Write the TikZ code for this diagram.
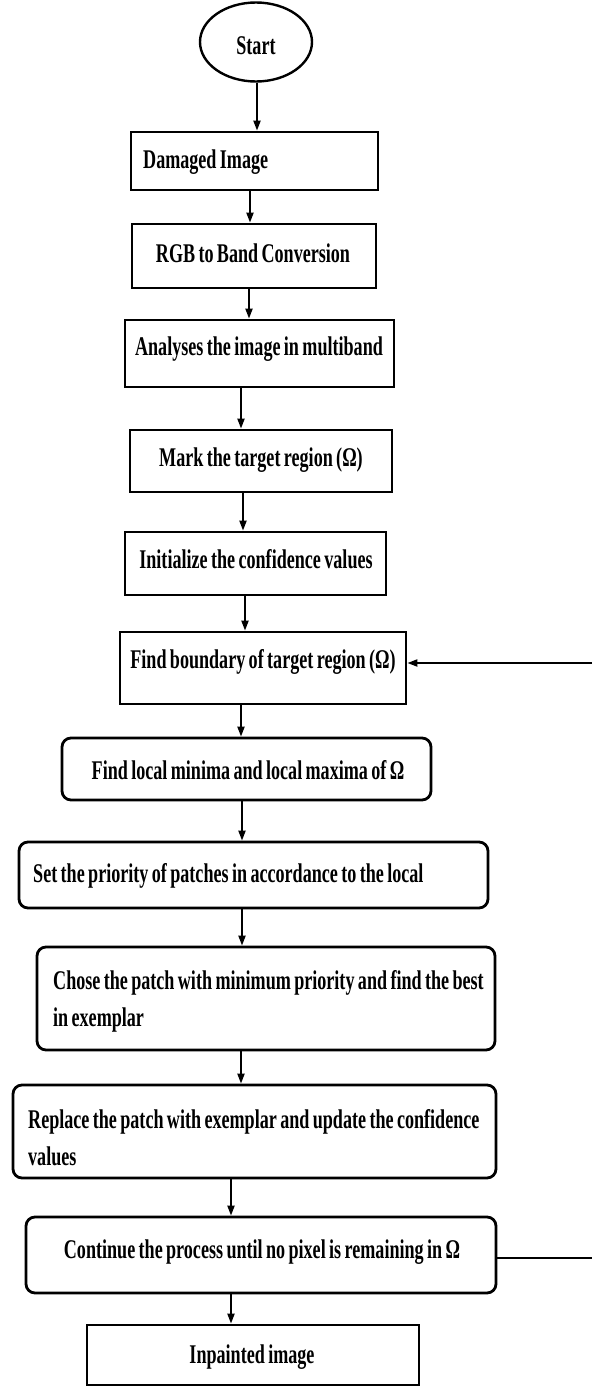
\documentclass[tikz,border=0pt]{standalone}
\usepackage{fontspec}
\setmainfont{Liberation Serif}[FakeStretch=0.67,WordSpace=0.75]
\usetikzlibrary{shapes.geometric,arrows.meta}
\begin{document}
\begin{tikzpicture}[x=1pt,y=-1pt,
  box/.style={draw, line width=2.8pt, inner sep=0pt},
  rbox/.style={box, rounded corners=9pt},
  lbl/.style={font=\fontsize{27}{37}\selectfont\bfseries, inner sep=0pt},
  arr/.style={line width=2pt, -{Triangle[length=10pt,width=7pt]}},
  plain/.style={line width=2.2pt}
]
\useasboundingbox[fill=white] (0,0) rectangle (592,1390);

\node[draw, ellipse, line width=2.4pt, minimum width=112pt, minimum height=79pt, inner sep=0pt] (start) at (256,42) {};
\node[lbl, anchor=base] (t0) at (256,54) {Start};

\node[box, minimum width=247pt, minimum height=58pt] (b1) at (254.5,161) {};
\node[box, minimum width=244pt, minimum height=64pt] (b2) at (254,256) {};
\node[box, minimum width=269pt, minimum height=67pt] (b3) at (259.5,353.5) {};
\node[box, minimum width=262pt, minimum height=62pt] (b4) at (261,461) {};
\node[box, minimum width=261pt, minimum height=63pt] (b5) at (255.5,563.5) {};
\node[box, minimum width=286pt, minimum height=72pt] (b6) at (263,668) {};
\node[rbox, minimum width=369pt, minimum height=62pt] (b7) at (246.5,769) {};
\node[rbox, minimum width=469pt, minimum height=66pt] (b8) at (253.5,875) {};
\node[rbox, minimum width=458pt, minimum height=103pt] (b9) at (266,998.5) {};
\node[rbox, minimum width=483pt, minimum height=93pt] (b10) at (254.5,1131.5) {};
\node[rbox, minimum width=470pt, minimum height=76pt] (b11) at (261,1255) {};
\node[box, minimum width=332pt, minimum height=60pt] (b12) at (253,1355) {};

\node[lbl, anchor=base west] (t1) at (143,168) {Damaged Image};
\node[lbl, anchor=base] (t2) at (253,262) {RGB to Band Conversion};
\node[lbl, anchor=base] (t3) at (259,355) {Analyses the image in multiband};
\node[lbl, anchor=base] (t4) at (261,466) {Mark the target region (Ω)};
\node[lbl, anchor=base] (t5) at (256,568) {Initialize the confidence values};
\node[lbl, anchor=base] (t6) at (263,668) {Find boundary of target region (Ω)};
\node[lbl, anchor=base] (t7) at (248,779) {Find local minima and local maxima of Ω};
\node[lbl, anchor=base west] (t8) at (33,882) {Set the priority of patches in accordance to the local};
\node[lbl, anchor=west, align=left] (t9) at (53,1001) {Chose the patch with minimum priority and find the best\\in exemplar};
\node[lbl, anchor=west, align=left] (t10) at (28,1138) {Replace the patch with exemplar and update the confidence\\values};
\node[lbl, anchor=base] (t11) at (262,1258) {Continue the process until no pixel is remaining in Ω};
\node[lbl, anchor=base] (t12) at (252,1363) {Inpainted image};

\coordinate (x0) at (257,0);
\coordinate (x1) at (250,0);
\coordinate (x2) at (249,0);
\coordinate (x3) at (241,0);
\coordinate (x4) at (243,0);
\coordinate (x5) at (245,0);
\coordinate (x6) at (241,0);
\coordinate (x7) at (242,0);
\coordinate (x8) at (242,0);
\coordinate (x9) at (241,0);
\coordinate (x10) at (231,0);
\coordinate (x11) at (231,0);

\draw[arr] (start.south -| x0) -- (b1.north -| x0);
\draw[arr] (b1.south -| x1) -- (b2.north -| x1);
\draw[arr] (b2.south -| x2) -- (b3.north -| x2);
\draw[arr] (b3.south -| x3) -- (b4.north -| x3);
\draw[arr] (b4.south -| x4) -- (b5.north -| x4);
\draw[arr] (b5.south -| x5) -- (b6.north -| x5);
\draw[arr] (b6.south -| x6) -- (b7.north -| x6);
\draw[arr] (b7.south -| x7) -- (b8.north -| x7);
\draw[arr] (b8.south -| x8) -- (b9.north -| x8);
\draw[arr] (b9.south -| x9) -- (b10.north -| x9);
\draw[arr] (b10.south -| x10) -- (b11.north -| x10);
\draw[arr] (b11.south -| x11) -- (b12.north -| x11);

\coordinate (fb) at (592,663);
\coordinate (ct) at (592,1258);
\draw[arr] (fb) -- (b6.east |- fb);
\draw[plain] (b11.east |- ct) -- (ct);
\end{tikzpicture}
\end{document}
